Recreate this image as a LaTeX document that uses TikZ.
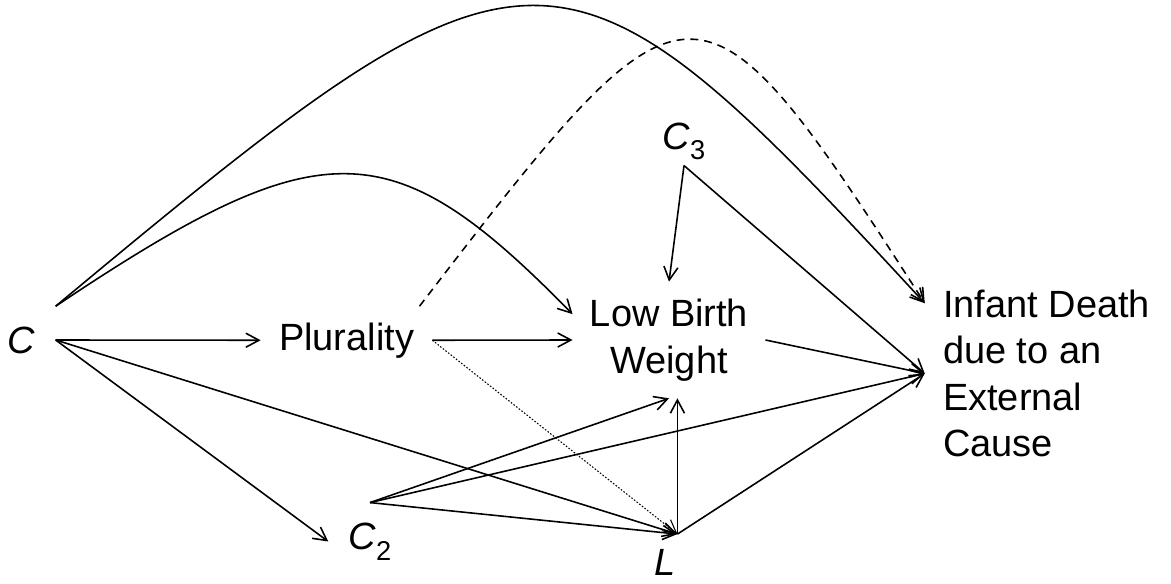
\documentclass[tikz,border=0pt]{standalone}
\usepackage{fontspec}
\setmainfont{Liberation Sans}
\usetikzlibrary{arrows.meta}
\newcommand{\cvar}[1]{\textit{C}\raisebox{-0.28em}{\fontsize{15.5}{16}\selectfont #1}}

\begin{document}
\begin{tikzpicture}[x=1cm,y=1cm,
  font=\fontsize{21.6}{26.5}\selectfont,
  >={Straight Barb[length=7.5pt,width=8pt]},
  arr/.style={->,line width=0.9pt},
  var/.style={inner sep=0.4cm}]
\useasboundingbox (0,0) rectangle (23.42,11.66);
% variables
\node[var] (C) at (0.43,4.86) {\textit{C}};
\node[inner xsep=0.36cm,inner ysep=0.32cm] (plur) at (6.93,4.855) {Plurality};
\node[inner sep=0.34cm,align=center] (lbw) at (13.38,4.86) {Low Birth\\Weight};
\node[inner sep=0.1cm] (C3) at (13.68,8.83) {\cvar{3}};
\node[var] (C2) at (7.40,0.83) {\cvar{2}};
\node[inner xsep=0.03cm,inner ysep=0.3cm] (L) at (13.30,0.41) {\textit{L}};
\node[inner xsep=0.36cm,inner ysep=0.1cm,align=left] (inf) at (20.93,4.19) {Infant Death\\due to an\\External\\Cause};
% arrows from C
\draw[arr] (C.east) -- (plur.west);
\draw[arr] (C.east) -- (C2.west);
\draw[arr] (C.east) -- (L.north east);
\draw[arr] (C.north east) .. controls (6.46,9.12) and (7.84,9.06) .. (lbw.165);
\draw[arr] (C.north east) .. controls (10.70,13.52) and (11.15,13.56) .. (inf.150);
% arrows from plurality
\draw[arr] (plur.east) -- (lbw.west);
\draw[arr,dash pattern=on 4.5pt off 3.4pt] (plur.25) .. controls (13.84,12.62) and (13.94,12.66) .. (inf.150);
\draw[arr,densely dotted,line width=0.6pt] (plur.east) -- (L.north east);
% C3, C2, L
\draw[arr] (C3.south) -- (lbw.north);
\draw[arr] (C3.south) -- (inf.west);
\draw[arr] (lbw.east) -- (inf.west);
\draw[arr] (C2.north) -- (lbw.south);
\draw[arr] (C2.north) -- (inf.west);
\draw[arr] (C2.north) -- (L.north east);
\draw[arr] (L.north east) -- (L.north east |- lbw.south);
\draw[arr] (L.north east) -- (inf.west);
\end{tikzpicture}
\end{document}
